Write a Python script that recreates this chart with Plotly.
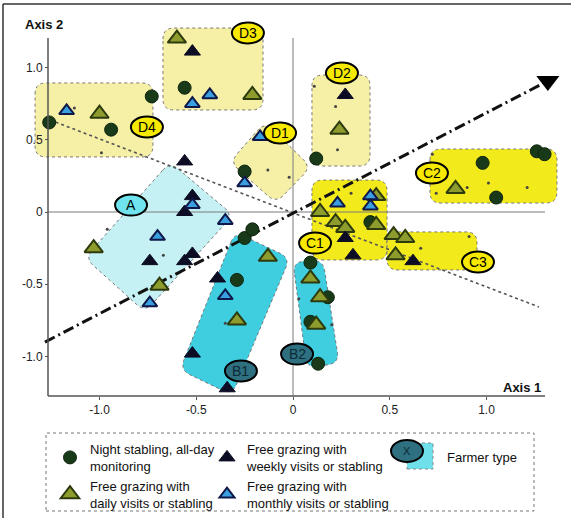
import numpy as np
import plotly.graph_objects as go

W, H = 571, 518
# pixel mapping of the reference (data -> pixel) used only for layout geometry
X0PX, XSCALE = 293.0, 193.5
Y0PX, YSCALE = 212.0, 144.5

# ---------------- data ----------------
night_x = [-1.26, -0.94, -0.73, -0.56, -0.25, 0.12, 1.26, 1.30, 0.98, 1.05, 0.40, -0.25, -0.21, -0.29, 0.09, 0.18, 0.09, 0.13]
night_y = [0.62, 0.57, 0.80, 0.86, 0.28, 0.37, 0.42, 0.40, 0.34, 0.10, -0.07, -0.18, -0.12, -0.47, -0.35, -0.59, -0.76, -1.05]

daily_x = [-0.60, -0.21, -1.00, 0.24, 0.84, 0.14, 0.22, 0.27, 0.43, 0.43, 0.52, 0.58, 0.53, -1.03, -0.69, -0.13, -0.29, 0.09, 0.14, 0.12]
daily_y = [1.20, 0.81, 0.68, 0.57, 0.16, 0.00, -0.07, -0.11, 0.11, -0.09, -0.16, -0.18, -0.30, -0.25, -0.51, -0.31, -0.75, -0.46, -0.59, -0.78]

weekly_x = [-0.52, 0.27, -0.56, -0.52, -0.56, -0.74, -0.52, -0.56, 0.27, 0.31, 0.62, -0.39, -0.52, -0.34]
weekly_y = [1.11, 0.81, 0.35, 0.11, 0.00, -0.34, -0.29, -0.34, -0.18, -0.30, -0.34, -0.46, -0.98, -1.22]

monthly_x = [-1.17, -0.52, -0.43, -0.17, -0.25, -0.52, -0.35, -0.70, -0.74, -0.35, 0.23, 0.40, 0.40]
monthly_y = [0.70, 0.75, 0.81, 0.52, 0.20, 0.05, -0.06, -0.17, -0.63, -0.58, 0.06, 0.11, 0.04]

dots_x = [-1.13, -0.99, -0.96, -0.67, -0.13, -0.02, 0.30, -0.35, 0.11, 0.22, 0.23, 0.72, 0.74, 0.90, 1.01, 1.21, 0.66, 0.91, 0.03, 0.20]
dots_y = [0.72, 0.41, -0.12, -0.30, 0.29, 0.24, 0.13, -0.77, 0.87, 0.73, 0.43, 0.40, 0.13, 0.17, 0.20, 0.17, -0.25, -0.17, -0.60, -0.78]

# trend lines (axes of the analysis)
dotted_line_x = [-1.256, 1.271]
dotted_line_y = [0.637, -0.657]
dashdot_line_x = [-1.282, 1.317]
dashdot_line_y = [-0.900, 0.907]

# farmer-type regions (vertex lists, data coordinates)
region_names = ["D4", "D3", "D2", "D1", "A", "C2", "C1", "C3", "B1", "B2"]
region_x = [
    [-1.333, -0.724, -0.724, -1.333],
    [-0.672, -0.155, -0.155, -0.672],
    [0.098, 0.398, 0.398, 0.098],
    [-0.326, -0.145, 0.093, -0.088],
    [-0.636, -0.310, -0.765, -1.075],
    [0.708, 1.364, 1.364, 0.708],
    [0.098, 0.486, 0.486, 0.098],
    [0.486, 0.951, 0.951, 0.486],
    [-0.300, -0.016, -0.315, -0.584],
    [0.000, 0.155, 0.238, 0.072],
]
region_y = [
    [0.893, 0.893, 0.381, 0.381],
    [1.273, 1.273, 0.706, 0.706],
    [0.948, 0.948, 0.318, 0.318],
    [0.346, 0.623, 0.311, 0.062],
    [0.346, -0.021, -0.692, -0.318],
    [0.436, 0.436, 0.062, 0.062],
    [0.221, 0.221, -0.332, -0.332],
    [-0.138, -0.138, -0.401, -0.401],
    [-0.138, -0.318, -1.266, -1.093],
    [-0.346, -0.332, -1.045, -1.080],
]
region_fill = ["#f5f0a6", "#f5f0a6", "#f5f0a6", "#f5f0a6", "#c6f1f4",
               "#f3ea1c", "#f3ea1c", "#f3ea1c", "#3fcde0", "#3fcde0"]

label_text = ["D3", "D4", "D1", "D2", "C2", "C1", "C3", "A", "B1", "B2"]
label_x = [-0.233, -0.755, -0.067, 0.253, 0.718, 0.114, 0.956, -0.837, -0.269, 0.021]
label_y = [1.239, 0.588, 0.547, 0.962, 0.270, -0.215, -0.346, 0.048, -1.100, -0.983]
label_fill = ["#f7ea00"] * 7 + ["#6fe4ee", "#2e6f80", "#2e6f80"]
label_fcol = ["#000000"] * 8 + ["#0b2a33", "#0b2a33"]

tick_vals = [-1.0, -0.5, 0.0, 0.5, 1.0]
tick_text = ["-1.0", "-0.5", "0", "0.5", "1.0"]

# ---------------- helpers ----------------
def dx(px):
    return (px - X0PX) / XSCALE

def dy(py):
    return (Y0PX - py) / YSCALE

def topx(x):
    return X0PX + x * XSCALE

def topy(y):
    return Y0PX - y * YSCALE

def pp(px, py):
    return px / W, 1 - py / H

def rounded_path(xs, ys, r=10):
    P = [np.array([topx(x), topy(y)]) for x, y in zip(xs, ys)]
    n = len(P)
    parts = []
    for i in range(n):
        pv, v, nx = P[i - 1], P[i], P[(i + 1) % n]
        a = v + r * (pv - v) / np.linalg.norm(pv - v)
        b = v + r * (nx - v) / np.linalg.norm(nx - v)
        cmd = "M" if i == 0 else "L"
        parts.append(f"{cmd}{dx(a[0]):.4f},{dy(a[1]):.4f} Q{dx(v[0]):.4f},{dy(v[1]):.4f} {dx(b[0]):.4f},{dy(b[1]):.4f}")
    return " ".join(parts) + " Z"

FONT = "Liberation Sans, Arial, sans-serif"

fig = go.Figure()

fig.add_trace(go.Scatter(x=dotted_line_x, y=dotted_line_y, mode="lines",
                         line=dict(color="#555555", width=1.6, dash="dot"),
                         showlegend=False, hoverinfo="skip"))
fig.add_trace(go.Scatter(x=dashdot_line_x, y=dashdot_line_y, mode="lines+markers",
                         line=dict(color="#111111", width=3, dash="11px,4px,2px,4px"),
                         marker=dict(symbol="triangle-down", size=[0, 20], color="#000000",
                                     opacity=1, line=dict(width=0)),
                         showlegend=False, hoverinfo="skip"))
fig.add_trace(go.Scatter(x=dots_x, y=dots_y, mode="markers",
                         marker=dict(size=3, color="#444444"),
                         showlegend=False, hoverinfo="skip"))

fig.add_trace(go.Scatter(x=night_x, y=night_y, mode="markers",
                         name="Night stabling, all-day<br>monitoring",
                         marker=dict(symbol="circle", size=13, color="#183a18",
                                     line=dict(color="#0e240e", width=1)),
                         legend="legend"))
fig.add_trace(go.Scatter(x=daily_x, y=daily_y, mode="markers",
                         name="Free grazing with<br>daily visits or stabling",
                         marker=dict(symbol="triangle-up", size=16, color="#8e9c2e",
                                     line=dict(color="#2c3a0e", width=2)),
                         legend="legend"))
fig.add_trace(go.Scatter(x=weekly_x, y=weekly_y, mode="markers",
                         name="Free grazing with<br>weekly visits or stabling",
                         marker=dict(symbol="triangle-up", size=14, color="#0c0c24",
                                     line=dict(color="#0c0c24", width=1)),
                         legend="legend2"))
fig.add_trace(go.Scatter(x=monthly_x, y=monthly_y, mode="markers",
                         name="Free grazing with<br>monthly visits or stabling",
                         marker=dict(symbol="triangle-up", size=13, color="#3a9fe0",
                                     line=dict(color="#0f1848", width=2)),
                         legend="legend2"))

shapes = []
# regions
for xs, ys, fc in zip(region_x, region_y, region_fill):
    shapes.append(dict(type="path", xref="x", yref="y", path=rounded_path(xs, ys, 11),
                       fillcolor=fc, line=dict(color="#777777", width=1, dash="dot"),
                       layer="below"))

# axis lines and zero lines
xl, xr = dx(48), dx(545)
yb, yt = dy(396), dy(38)
shapes += [
    dict(type="line", xref="x", yref="y", x0=xl, x1=xr, y0=0, y1=0,
         line=dict(color="#7a7a7a", width=1), layer="below"),
    dict(type="line", xref="x", yref="y", x0=0, x1=0, y0=yb, y1=yt,
         line=dict(color="#7a7a7a", width=1), layer="below"),
    dict(type="line", xref="x", yref="y", x0=xl, x1=xl, y0=yb, y1=yt,
         line=dict(color="#555555", width=1.5)),
    dict(type="line", xref="x", yref="y", x0=xl, x1=xr, y0=yb, y1=yb,
         line=dict(color="#555555", width=1.5)),
]

# label ellipses
for t, x, y, fc in zip(label_text, label_x, label_y, label_fill):
    shapes.append(dict(type="circle", xref="x", yref="y",
                       x0=x - 16 / XSCALE, x1=x + 16 / XSCALE,
                       y0=y - 10.5 / YSCALE, y1=y + 10.5 / YSCALE,
                       fillcolor=fc, line=dict(color="#000000", width=2), layer="above"))

# outer frame
fx0, fy0 = pp(3, 4)
fx1, fy1 = pp(571, 518)
shapes += [
    dict(type="line", xref="paper", yref="paper", x0=fx0, x1=fx1, y0=fy0, y1=fy0,
         line=dict(color="#333333", width=1.5)),
    dict(type="line", xref="paper", yref="paper", x0=fx0, x1=fx0, y0=fy0, y1=fy1,
         line=dict(color="#333333", width=1.5)),
]

# legend box
bx0, by0 = pp(46, 433)
bx1, by1 = pp(534, 511)
shapes.append(dict(type="rect", xref="paper", yref="paper", x0=bx0, x1=bx1, y0=by1, y1=by0,
                   line=dict(color="#777777", width=1, dash="dot"), fillcolor="rgba(0,0,0,0)"))
# farmer type legend symbol
sx0, sy0 = pp(407, 443)
sx1, sy1 = pp(433, 469)
shapes.append(dict(type="rect", xref="paper", yref="paper", x0=sx0, x1=sx1, y0=sy1, y1=sy0,
                   fillcolor="#6fe0ea", line=dict(color="#888888", width=1, dash="dot")))
ex0, ey0 = pp(391, 440)
ex1, ey1 = pp(423, 462)
shapes.append(dict(type="circle", xref="paper", yref="paper", x0=ex0, x1=ex1, y0=ey1, y1=ey0,
                   fillcolor="#2e6f80", line=dict(color="#000000", width=2)))

annotations = []
for t, x, y, fcol in zip(label_text, label_x, label_y, label_fcol):
    annotations.append(dict(x=x, y=y, xref="x", yref="y", text=t, showarrow=False,
                            xanchor="center", yanchor="middle",
                            font=dict(family=FONT, size=14, color=fcol)))

def paper_text(px, py, text, size, color, xanchor="center"):
    ax, ay = pp(px, py)
    return dict(x=ax, y=ay, xref="paper", yref="paper", text=text, showarrow=False,
                xanchor=xanchor, yanchor="middle",
                font=dict(family=FONT, size=size, color=color))

annotations.append(paper_text(44, 24, "<b>Axis 2</b>", 13, "#111111"))
annotations.append(paper_text(522, 387, "<b>Axis 1</b>", 13, "#111111"))
annotations.append(paper_text(407, 451, "X", 11, "#0b2a33"))
annotations.append(paper_text(445, 457, "Farmer type", 13, "#111111", xanchor="left"))

lx1, ly1 = pp(50, 434)
lx2, ly2 = pp(207, 434)
legend_common = dict(orientation="v", yanchor="top", xanchor="left",
                     bgcolor="rgba(0,0,0,0)", borderwidth=0,
                     font=dict(family=FONT, size=13, color="#111111"),
                     tracegroupgap=0, itemsizing="trace")

fig.update_layout(
    width=W, height=H,
    margin=dict(l=0, r=0, t=0, b=0),
    paper_bgcolor="white", plot_bgcolor="white",
    font=dict(family=FONT, size=12, color="#222222"),
    xaxis=dict(range=[dx(0), dx(W)], domain=[0, 1], anchor="free", position=1 - 396 / H,
               showgrid=False, zeroline=False, showline=False,
               tickmode="array", tickvals=tick_vals, ticktext=tick_text,
               ticks="outside", ticklen=3, tickcolor="#555555",
               tickfont=dict(family=FONT, size=12, color="#222222"), fixedrange=True),
    yaxis=dict(range=[dy(H), dy(0)], domain=[0, 1], anchor="free", position=48 / W,
               showgrid=False, zeroline=False, showline=False,
               tickmode="array", tickvals=tick_vals, ticktext=tick_text,
               ticks="outside", ticklen=3, tickcolor="#555555",
               tickfont=dict(family=FONT, size=12, color="#222222"), fixedrange=True),
    legend=dict(x=lx1, y=ly1, **legend_common),
    legend2=dict(x=lx2, y=ly2, **legend_common),
    shapes=shapes,
    annotations=annotations,
)

fig.write_html("out.html", config={"displayModeBar": False},
               post_script="document.body.style.margin='0px';")
